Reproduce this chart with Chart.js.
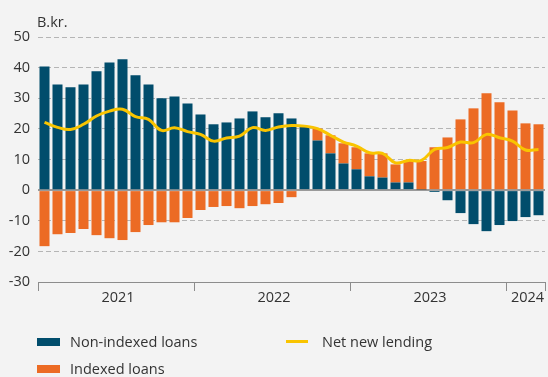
<!DOCTYPE html>
<html>
<head>
<meta charset="utf-8">
<script src="https://cdn.jsdelivr.net/npm/chart.js@4/dist/chart.umd.min.js"></script>
<style>
  body { margin: 0; background: #f3f3f3; font-family: "Open Sans", sans-serif; color: #333; }
  #wrap { position: relative; width: 548px; height: 377px; overflow: hidden; }
  #chart { position: absolute; left: 0; top: 0; }
  .unit { position: absolute; left: 37px; top: 12px; font-size: 14.5px; line-height: 20px; }
  .sw { position: absolute; }
  .lbl { position: absolute; font-size: 14.5px; line-height: 20px; white-space: nowrap; }
</style>
</head>
<body>
<div id="wrap">
  <canvas id="chart" width="548" height="377"></canvas>
  <div class="unit">B.kr.</div>
  <div class="sw" style="left:37px;top:338px;width:23px;height:8px;background:#014d6c"></div>
  <div class="lbl" style="left:70px;top:332px">Non-indexed loans</div>
  <div class="sw" style="left:37px;top:365px;width:23px;height:8px;background:#ec6b24"></div>
  <div class="lbl" style="left:70px;top:359px">Indexed loans</div>
  <div class="sw" style="left:286px;top:340px;width:22px;height:3px;background:#f9c400"></div>
  <div class="lbl" style="left:322px;top:332px">Net new lending</div>
</div>
<script>
// Monthly net new lending, Jan 2021 - Mar 2024 (B.kr.)
const months = [
  '2021-01', '2021-02', '2021-03', '2021-04', '2021-05', '2021-06',
  '2021-07', '2021-08', '2021-09', '2021-10', '2021-11', '2021-12',
  '2022-01', '2022-02', '2022-03', '2022-04', '2022-05', '2022-06',
  '2022-07', '2022-08', '2022-09', '2022-10', '2022-11', '2022-12',
  '2023-01', '2023-02', '2023-03', '2023-04', '2023-05', '2023-06',
  '2023-07', '2023-08', '2023-09', '2023-10', '2023-11', '2023-12',
  '2024-01', '2024-02', '2024-03'
];
const years = ['2021', '2022', '2023', '2024'];

const nonIndexed = [
  40.4, 34.5, 33.6, 34.5, 38.8, 41.7, 42.7, 37.5, 34.5, 30.0, 30.6, 28.3,
  24.7, 21.5, 22.1, 23.4, 25.7, 23.8, 25.1, 23.4, 20.6, 16.2, 12.0, 8.7,
  6.8, 4.5, 4.1, 2.5, 2.5, 0.2, -0.6, -3.3, -7.5, -11.1, -13.4, -11.4,
  -10.1, -8.8, -8.2
];
const indexed = [
  -18.3, -14.4, -14.0, -12.7, -14.7, -15.7, -16.3, -13.7, -11.4, -10.5, -10.5, -9.1,
  -6.5, -5.5, -5.2, -5.9, -5.2, -4.6, -4.2, -2.3, 0.3, 3.9, 5.9, 6.6,
  7.2, 7.5, 7.9, 5.9, 7.2, 9.3, 14.0, 17.2, 23.1, 26.7, 31.6, 28.7,
  26.0, 21.8, 21.5
];
const netLending = [
  22.1, 20.5, 19.8, 21.5, 24.2, 25.8, 26.4, 24.0, 23.1, 19.5, 20.4, 19.1,
  18.2, 16.0, 17.0, 17.6, 20.4, 19.5, 20.6, 21.1, 20.9, 20.1, 17.9, 15.7,
  14.4, 12.2, 12.0, 8.9, 9.7, 9.7, 13.3, 13.9, 15.7, 15.5, 18.2, 17.1,
  16.0, 13.1, 13.3
];

const FONT = '"Open Sans", sans-serif';
const TEXT = '#333333';

// year names under the axis, centred on each year's months
const yearLabels = {
  id: 'yearLabels',
  afterDraw(chart) {
    const x = chart.scales.x;
    const ctx = chart.ctx;
    ctx.save();
    ctx.font = '14.5px ' + FONT;
    ctx.fillStyle = TEXT;
    ctx.textAlign = 'center';
    ctx.textBaseline = 'middle';
    years.forEach(function (yr) {
      const first = months.findIndex(m => m.startsWith(yr));
      let last = first;
      months.forEach((m, i) => { if (m.startsWith(yr)) last = i; });
      const cx = (x.getPixelForValue(first) + x.getPixelForValue(last)) / 2;
      ctx.fillText(yr, cx + 2, x.top + 16);
    });
    ctx.restore();
  }
};

function draw() {
  const ctx = document.getElementById('chart').getContext('2d');
  new Chart(ctx, {
    type: 'bar',
    data: {
      labels: months,
      datasets: [
        {
          type: 'line',
          label: 'Net new lending',
          data: netLending,
          stack: 'net',
          borderColor: '#f9c400',
          borderWidth: 3,
          pointRadius: 0,
          tension: 0.4,
          order: 0,
        },
        {
          label: 'Non-indexed loans',
          data: nonIndexed,
          stack: 'loans',
          backgroundColor: '#014d6c',
          barPercentage: 0.77,
          categoryPercentage: 1,
          order: 1,
        },
        {
          label: 'Indexed loans',
          data: indexed,
          stack: 'loans',
          backgroundColor: '#ec6b24',
          barPercentage: 0.77,
          categoryPercentage: 1,
          order: 2,
        },
      ],
    },
    options: {
      responsive: false,
      animation: false,
      layout: { padding: { top: 37, right: 3, bottom: 65, left: 0 } },
      plugins: {
        legend: { display: false },
        tooltip: { enabled: false },
      },
      scales: {
        x: {
          stacked: true,
          offset: true,
          grid: {
            offset: true,
            drawOnChartArea: false,
            drawTicks: true,
            tickLength: 9,
            lineWidth: 1,
            color: (c) => (c.type !== 'tick' || c.index % 12 === 0) ? '#8c8c8c' : 'rgba(0,0,0,0)',
          },
          border: { display: true, color: '#8c8c8c', width: 1 },
          ticks: { display: false, autoSkip: false },
          afterFit: (s) => { s.height = 30; },
        },
        y: {
          stacked: true,
          min: -30,
          max: 50,
          ticks: {
            stepSize: 10,
            padding: 8,
            color: TEXT,
            font: { family: FONT, size: 14.5 },
          },
          grid: {
            drawTicks: false,
            color: (c) => c.tick.value === 0 ? '#9a9a9a' : (c.tick.value === -30 ? '#8c8c8c' : '#b5b5b5'),
            lineWidth: (c) => c.tick.value === 0 ? 2 : 1,
          },
          border: {
            display: false,
            dash: (c) => (c.tick && c.tick.value > -30 && c.tick.value !== 0) ? [5, 3] : [],
          },
          afterFit: (s) => { s.width = 38; },
        },
      },
    },
    plugins: [yearLabels],
  });
}

if (document.fonts && document.fonts.load) {
  document.fonts.load('14.5px "Open Sans"').then(draw, draw);
} else {
  draw();
}
</script>
</body>
</html>
